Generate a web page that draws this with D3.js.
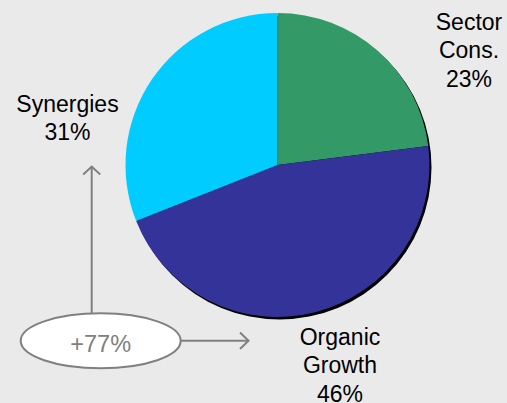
<!DOCTYPE html>
<html>
<head>
<meta charset="utf-8">
<script src="https://cdn.jsdelivr.net/npm/d3@7"></script>
<style>
  html, body { margin: 0; padding: 0; background: #eaeaea; }
  svg { display: block; }
  text { font-family: "Liberation Sans", Arial, sans-serif; }
</style>
</head>
<body>
<svg id="chart" width="507" height="403"></svg>
<script>
// Growth breakdown shares (%), drawn clockwise from 12 o'clock
const categories = ["Sector Cons.", "Organic Growth", "Synergies"];
const shares = [23, 46, 31];
const colors = ["#339966", "#333399", "#00ccff"];
const labelLines = [["Sector", "Cons."], ["Organic", "Growth"], ["Synergies"]];
const totalLabel = "+77%";

const W = 507, H = 403;
const cx = 277.5, cy = 165, R = 152;

const svg = d3.select("#chart");
svg.append("rect").attr("width", W).attr("height", H).attr("fill", "#eaeaea");

const data = categories.map((c, i) => ({ name: c, value: shares[i], color: colors[i], lines: labelLines[i] }));

const pie = d3.pie().value(d => d.value).sort(null);
const arcs = pie(data);
const arc = d3.arc().innerRadius(0).outerRadius(R);

const g = svg.append("g").attr("transform", `translate(${cx},${cy})`);

// drop shadow under the pie
g.append("circle").attr("cx", 2).attr("cy", 2.5).attr("r", R).attr("fill", "#000");

g.selectAll("path.slice")
  .data(arcs)
  .join("path")
  .attr("class", "slice")
  .attr("d", arc)
  .attr("fill", d => d.data.color);

// slice labels: name lines followed by percentage
const labelPos = {
  "Sector Cons.": [469, 29.5],
  "Organic Growth": [340, 344.5],
  "Synergies": [67.5, 111.5]
};
const lineGap = 28.5;
data.forEach(d => {
  const [x, y0] = labelPos[d.name];
  const lines = d.lines.concat([d.value + "%"]);
  const t = svg.append("text")
    .attr("text-anchor", "middle")
    .attr("font-size", 23)
    .attr("fill", "#000");
  lines.forEach((ln, i) => {
    t.append("tspan").attr("x", x).attr("y", y0 + i * lineGap).text(ln);
  });
});

// total growth bubble with arrows
const grey = "#808080";
const ex = 100.7, ey = 340.8, erx = 80, ery = 27.5;

// vertical arrow up to Synergies
svg.append("line").attr("x1", 91.7).attr("x2", 91.7)
  .attr("y1", ey - Math.sqrt(1 - Math.pow((91.7 - ex) / erx, 2)) * ery).attr("y2", 166.5)
  .attr("stroke", grey).attr("stroke-width", 2);
svg.append("path")
  .attr("d", `M${91.7 - 8.5},${174.5} L${91.7},${166.5} L${91.7 + 8.5},${174.5}`)
  .attr("fill", "none").attr("stroke", grey).attr("stroke-width", 2);

// horizontal arrow toward Organic Growth
svg.append("line").attr("x1", ex + erx).attr("x2", 248.5)
  .attr("y1", 340.7).attr("y2", 340.7)
  .attr("stroke", grey).attr("stroke-width", 2);
svg.append("path")
  .attr("d", `M${240},${332.5} L${248.5},${340.7} L${240},${349}`)
  .attr("fill", "none").attr("stroke", grey).attr("stroke-width", 2);

svg.append("ellipse")
  .attr("cx", ex).attr("cy", ey).attr("rx", erx).attr("ry", ery)
  .attr("fill", "#fff").attr("stroke", grey).attr("stroke-width", 2);

svg.append("text")
  .attr("x", ex).attr("y", 351.5)
  .attr("text-anchor", "middle")
  .attr("font-size", 23.5)
  .attr("fill", grey)
  .text(totalLabel);
</script>
</body>
</html>
